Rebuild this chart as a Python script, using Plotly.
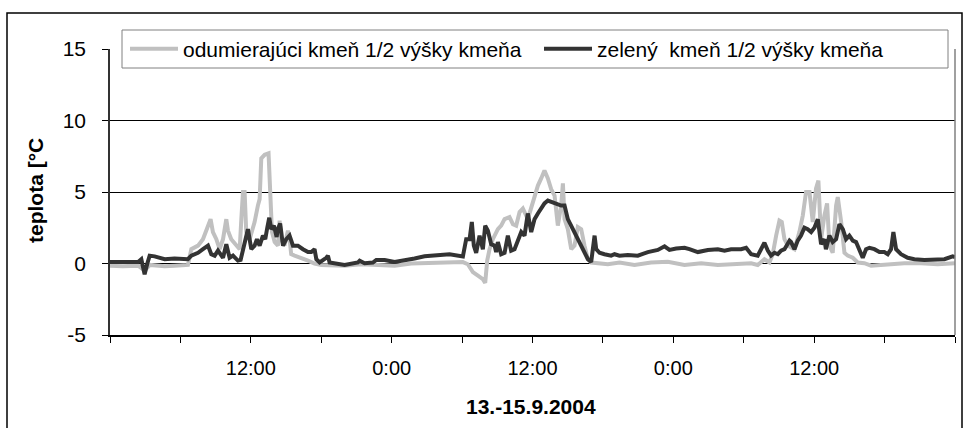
import plotly.graph_objects as go

# time in hours since 13.9.2004 0:00
dead_hours = [0, 1.1, 2.4, 2.95, 3.4, 4.66, 5.5, 6.64, 6.93, 7.5, 7.92, 8.35, 8.57, 8.77, 9.06, 9.34, 9.63, 9.91,
              10.05, 10.33, 10.76, 11.05, 11.19, 11.33, 11.47, 11.61, 11.9, 12.32, 12.6, 12.75, 12.89, 13.18, 13.51,
              13.66, 13.8, 14.03, 14.31, 14.45, 14.59, 14.87, 15.16, 15.3, 15.44, 15.73, 16.3, 16.87, 17.43, 18.0,
              19.99, 21.4, 22.83, 24.25, 25.67, 27.09, 28.93, 30.07, 30.49, 30.92, 31.35, 31.77, 31.97, 32.14, 32.34,
              32.62, 33.05, 33.33, 33.62, 34.04, 34.33, 34.61, 34.9, 35.18, 35.6, 35.89, 36.17, 36.46, 36.74, 37.02,
              37.31, 37.59, 37.88, 38.16, 38.44, 38.59, 38.73, 39.01, 39.3, 39.58, 39.86, 40.15, 40.43, 40.72, 41.0,
              42.42, 43.41, 44.69, 46.1, 47.53, 48.95, 50.37, 51.79, 53.21, 54.63, 55.19, 55.76, 56.19, 56.47, 56.76,
              57.04, 57.24, 57.47, 57.75, 58.32, 58.74, 59.03, 59.31, 59.6, 59.88, 60.16, 60.36, 60.59, 60.87, 61.1,
              61.3, 61.58, 61.87, 62.01, 62.3, 62.58, 62.86, 63.29, 63.71, 64.28, 64.85, 65.7, 66.83, 67.68, 69.1,
              70.52, 72.0]
dead_temp = [-0.15, -0.2, -0.15, -0.5, -0.1, -0.2, -0.15, -0.1, 1.0, 1.25, 1.7, 2.65, 3.1, 2.2, 1.7, 1.0, 1.7, 3.1,
             2.3, 1.7, 1.25, 1.0, 3.1, 5.0, 5.0, 2.2, 1.7, 2.9, 4.05, 4.5, 7.35, 7.6, 7.7,
             4.8, 2.2, 1.5, 1.25, 3.0, 1.7, 1.25, 2.3, 1.7, 0.65, 0.55, 0.4, 0.2, 0.0, -0.1,
             -0.15, -0.05, -0.1, -0.15, 0.0, 0.05, 0.1, 0.1, -0.05, -0.6, -0.85, -1.1, -1.35, 0.2, 1.0,
             1.7, 2.4, 2.65, 3.1, 3.25, 2.75, 2.65, 3.6, 3.85, 3.1, 3.85, 4.75, 5.45, 5.95, 6.5,
             5.95, 5.2, 4.75, 2.65, 4.05, 5.6, 3.1, 2.4, 1.0, 1.25, 2.55, 2.4, 1.25, 0.3, 0.07,
             -0.05, 0.07, -0.1, 0.07, 0.12, -0.1, 0.02, -0.1, -0.05, 0.02, -0.1, 0.3, 0.07, 0.65, 1.95,
             3.0, 2.9, 1.7, 1.25, 1.0, 2.2, 3.35, 5.0, 5.0, 2.9, 5.25, 5.8, 1.7, 3.35, 4.2,
             1.25, 0.75, 4.05, 4.65, 2.9, 0.75, 0.55, 0.4, 0.07, 0.02, -0.15, -0.1, -0.05, 0.02, 0.02,
             -0.05, 0.02]

green_hours = [0, 1.1, 2.4, 2.67, 2.95, 3.18, 3.38, 3.8, 4.66, 5.5, 6.64, 6.93, 7.5, 7.92, 8.35, 8.63, 8.92, 9.2,
               9.63, 9.91, 10.19, 10.48, 10.9, 11.13, 11.33, 11.53, 11.75, 12.04, 12.32, 12.52, 12.75, 13.03, 13.23,
               13.4, 13.57, 13.74, 13.97, 14.2, 14.3, 14.5, 14.74, 15.02, 15.3, 15.59, 16.01, 16.44, 16.87, 17.15,
               17.43, 17.58, 17.86, 18.43, 18.57, 18.71, 19.0, 19.99, 21.12, 21.27, 21.69, 22.4, 22.69, 23.4, 24.25,
               25.1, 25.95, 26.8, 27.66, 28.51, 28.93, 30.07, 30.35, 30.64, 30.83, 31.0, 31.2, 31.49, 31.77, 31.97,
               32.2, 32.48, 32.77, 32.9, 33.05, 33.33, 33.62, 33.9, 34.18, 34.47, 34.75, 35.04, 35.32, 35.6, 35.89,
               36.17, 36.46, 36.74, 37.02, 37.31, 37.88, 38.44, 38.73, 39.01, 39.44, 39.86, 40.29, 40.72, 41.0, 41.29,
               41.43, 41.71, 42.13, 42.7, 42.99, 43.41, 44.12, 44.97, 45.83, 46.68, 47.25, 47.67, 48.24, 48.95, 49.37,
               50.09, 50.94, 51.79, 52.36, 52.92, 53.77, 54.2, 54.63, 55.19, 55.76, 56.05, 56.33, 56.62, 56.9, 57.18,
               57.47, 57.9, 58.03, 58.32, 58.6, 58.88, 59.17, 59.45, 59.74, 60.02, 60.31, 60.45, 60.59, 60.87, 61.0,
               61.3, 61.58, 61.87, 62.15, 62.44, 62.72, 63.0, 63.29, 63.57, 63.86, 64.14, 64.42, 64.71, 65.13, 65.56,
               65.98, 66.27, 66.55, 66.75, 66.98, 67.4, 67.97, 68.54, 69.39, 70.24, 71.1, 71.8, 72.0]
green_temp = [0.1, 0.12, 0.1, 0.3, -0.75, 0.0, 0.55, 0.5, 0.3, 0.35, 0.3, 0.55, 0.75, 1.0, 1.25, 0.65, 0.55, 0.9,
              0.4, 1.35, 0.4, 0.55, 0.2, 0.25, 1.0, 1.7, 2.4, 1.0, 1.25, 1.7, 1.25, 1.95, 1.7,
              2.5, 3.2, 2.4, 2.65, 1.85, 2.4, 2.8, 1.25, 1.7, 1.95, 1.25, 1.25, 1.0, 0.8, 0.8,
              1.0, 0.3, 0.07, 0.4, 0.55, 0.07, 0.02, -0.1, 0.07, 0.2, 0.02, 0.07, 0.25, 0.25, 0.1,
              0.2, 0.35, 0.5, 0.55, 0.6, 0.65, 0.5, 1.7, 1.7, 2.9, 1.25, 0.75, 1.95, 1.0, 2.65,
              2.3, 1.35, 1.25, 0.8, 1.5, 0.65, 0.75, 1.95, 0.9, 1.0, 1.7, 2.2, 1.95, 3.5, 2.2,
              3.1, 3.5, 3.85, 4.2, 4.4, 4.2, 4.05, 4.05, 3.1, 2.4, 1.7, 1.0, 0.3, 0.1, 1.95,
              1.0, 0.75, 0.65, 0.55, 0.65, 0.55, 0.6, 0.55, 0.8, 0.95, 1.2, 0.95, 1.05, 1.1, 1.0,
              0.8, 0.95, 1.0, 0.9, 1.0, 1.0, 1.1, 0.65, 0.55, 1.45, 0.9, 0.55, 0.75, 0.65, 0.9,
              1.0, 1.6, 1.5, 1.0, 1.6, 1.95, 2.5, 2.4, 2.2, 2.5, 3.1, 1.95, 1.35, 1.7, 1.0,
              1.95, 1.5, 1.7, 2.75, 2.4, 1.7, 1.95, 1.6, 1.5, 1.0, 0.4, 1.0, 1.1, 1.0, 0.8,
              0.8, 0.65, 1.0, 2.2, 1.0, 0.65, 0.4, 0.3, 0.25, 0.25, 0.3, 0.5, 0.45]

tick_hours = [0, 6, 12, 18, 24, 30, 36, 42, 48, 54, 60, 66, 72]
tick_text = ["", "", "12:00", "", "0:00", "", "12:00", "", "0:00", "", "12:00", "", ""]
y_ticks = [-5, 0, 5, 10, 15]
y_tick_text = ["-5", "0", "5", "10", "15"]

name_dead = "odumierajúci kmeň 1/2 výšky kmeňa"
name_green = "zelený  kmeň 1/2 výšky kmeňa"
x_title = "13.-15.9.2004"
y_title = "teplota [°C"

FONT = "Arial, 'Liberation Sans', sans-serif"
PW, PH, ML, MT = 845, 286, 110, 49


def px_x(x):
    return (x - ML) / PW


def px_y(y):
    return (MT + PH - y) / PH


fig = go.Figure()
fig.add_trace(go.Scatter(x=dead_hours, y=dead_temp, mode="lines", name=name_dead,
                         line=dict(color="#c0c0c0", width=4), legend="legend"))
fig.add_trace(go.Scatter(x=green_hours, y=green_temp, mode="lines", name=name_green,
                         line=dict(color="#333333", width=4), legend="legend2"))

leg_common = dict(orientation="h", xanchor="left", yanchor="middle", y=px_y(49),
                  bgcolor="rgba(0,0,0,0)", borderwidth=0,
                  font=dict(size=21, family=FONT), itemwidth=48)

fig.update_layout(
    width=964, height=428,
    margin=dict(l=ML, r=964 - ML - PW, t=MT, b=428 - MT - PH, autoexpand=False),
    paper_bgcolor="white", plot_bgcolor="white",
    font=dict(family=FONT, color="black"),
    showlegend=True,
    legend=dict(x=px_x(125), **leg_common),
    legend2=dict(x=px_x(539), **leg_common),
    xaxis=dict(range=[0, 72], tickvals=tick_hours, ticktext=tick_text, ticks="outside",
               ticklen=6, tickcolor="black", showgrid=False, zeroline=False,
               showline=True, linecolor="black", linewidth=1.5,
               tickfont=dict(size=20), ticklabelstandoff=8),
    yaxis=dict(range=[-5, 15], tickvals=y_ticks, ticktext=y_tick_text, ticks="outside", ticklen=6,
               tickcolor="black", showgrid=True, gridcolor="black", gridwidth=1,
               zeroline=False, showline=True, linecolor="#333333", linewidth=1.5,
               tickfont=dict(size=21), ticklabelstandoff=12),
    shapes=[
        dict(type="line", xref="paper", yref="paper", x0=1, x1=1, y0=0, y1=1,
             line=dict(color="#808080", width=1.5)),
        dict(type="rect", xref="paper", yref="paper", x0=px_x(122), x1=px_x(948),
             y0=px_y(68), y1=px_y(30), fillcolor="white", line=dict(color="#808080", width=1)),
        dict(type="rect", xref="paper", yref="paper", x0=px_x(7), x1=px_x(962), y0=px_y(445),
             y1=px_y(13), line=dict(color="black", width=1.5)),
    ],
    annotations=[
        dict(text="<b>" + y_title + "</b>", xref="paper", yref="paper", x=px_x(35), y=px_y(191),
             showarrow=False, textangle=-90, font=dict(size=21, family=FONT),
             xanchor="center", yanchor="middle"),
        dict(text="<b>" + x_title + "</b>", xref="paper", yref="paper", x=px_x(531), y=px_y(406),
             showarrow=False, font=dict(size=21, family=FONT),
             xanchor="center", yanchor="middle"),
    ],
)

fig.write_html("out.html")
